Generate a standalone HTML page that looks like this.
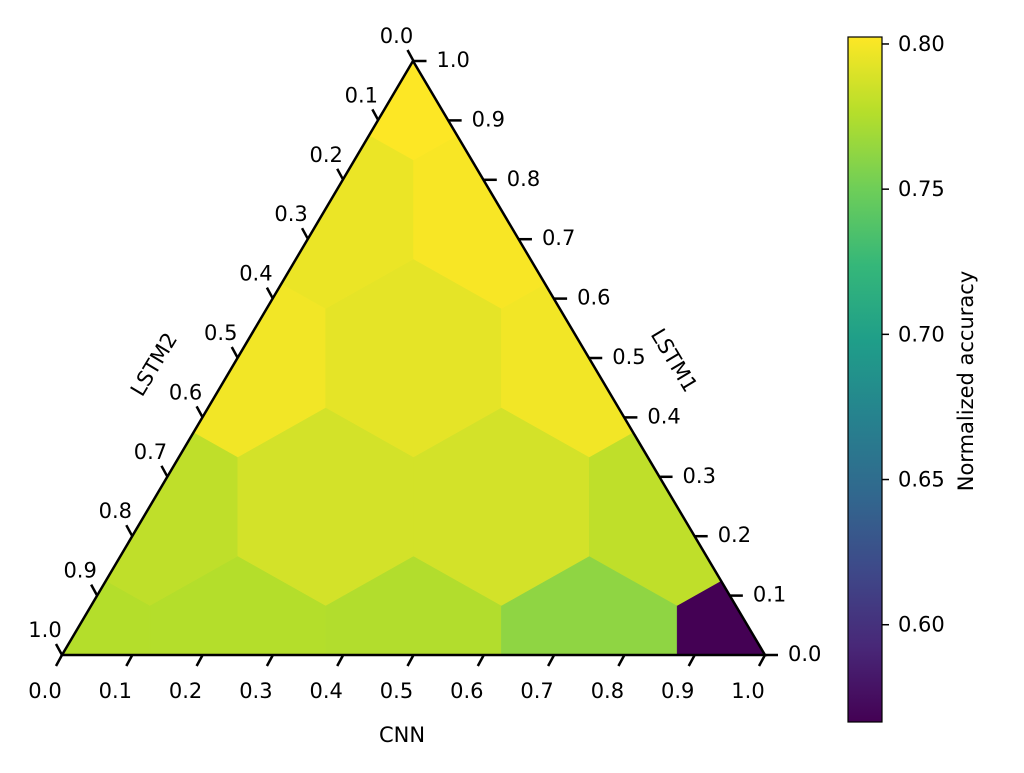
<!DOCTYPE html>
<html><head><meta charset="utf-8"><style>
body{margin:0;background:#fff;}
svg{font-family:"DejaVu Sans","Liberation Sans",sans-serif;}
</style></head><body>
<svg id="chart" width="1024" height="768" viewBox="0 0 1024 768">
<defs><clipPath id="tri"><polygon points="62,655 765,655 413,61"/></clipPath>
<linearGradient id="vir" x1="0" y1="1" x2="0" y2="0">
<stop offset="0" stop-color="#440154"/><stop offset="0.111" stop-color="#482878"/><stop offset="0.222" stop-color="#3e4989"/><stop offset="0.333" stop-color="#31688e"/><stop offset="0.444" stop-color="#26828e"/><stop offset="0.556" stop-color="#1f9e89"/><stop offset="0.667" stop-color="#35b779"/><stop offset="0.778" stop-color="#6ece58"/><stop offset="0.889" stop-color="#b5de2b"/><stop offset="1" stop-color="#fde725"/></linearGradient></defs>
<g id="cells" clip-path="url(#tri)"></g>
<g id="axes"></g>
</svg>
<script>
// lattice points: CNN fraction, LSTM1 fraction, value
const cellCNN   = [0,0.25,0.5,0.75,1, 0,0.25,0.5,0.75, 0,0.25,0.5, 0,0.25, 0];
const cellLSTM1 = [0,0,0,0,0, 0.25,0.25,0.25,0.25, 0.5,0.5,0.5, 0.75,0.75, 1];
const cellValue = [0.776,0.776,0.775,0.762,0.5665, 0.780,0.787,0.787,0.780, 0.7984,0.7935,0.7984, 0.796,0.8005, 0.8024];
const tickValues = [0,0.1,0.2,0.3,0.4,0.5,0.6,0.7,0.8,0.9,1.0];
const cbTicks = [0.60,0.65,0.70,0.75,0.80];
const vmin = 0.5665, vmax = 0.8024;

const NS="http://www.w3.org/2000/svg";
const X0=62,Y0=655,W=703,H=594;
function px(c,l){return X0+W*(c+l/2);}
function py(c,l){return Y0-H*l;}
const stops=[[68,1,84],[72,40,120],[62,73,137],[49,104,142],[38,130,142],[31,158,137],[53,183,121],[110,206,88],[181,222,43],[253,231,37]];
function viridis(f){f=Math.max(0,Math.min(1,f))*9;const i=Math.min(8,Math.floor(f)),t=f-i;const a=stops[i],b=stops[i+1];
 return `rgb(${a.map((v,k)=>Math.round(v+(b[k]-v)*t)).join(',')})`;}
function mk(tag,attrs,parent){const e=document.createElementNS(NS,tag);for(const k in attrs)e.setAttribute(k,attrs[k]);parent.appendChild(e);return e;}
const cells=document.getElementById('cells'), axes=document.getElementById('axes');
const a=W*0.25/2, dy=H*0.25;
for(let i=0;i<cellValue.length;i++){
 const cx=px(cellCNN[i],cellLSTM1[i]), cy=py(cellCNN[i],cellLSTM1[i]);
 const pts=[[cx,cy-2*dy/3],[cx+a,cy-dy/3],[cx+a,cy+dy/3],[cx,cy+2*dy/3],[cx-a,cy+dy/3],[cx-a,cy-dy/3]].map(p=>p.join(',')).join(' ');
 const col=viridis((cellValue[i]-vmin)/(vmax-vmin));
 const h=mk('polygon',{points:pts,fill:col,stroke:col,'stroke-width':0.5},cells);
 
 
}
const tri=mk('polygon',{points:"62,655 765,655 413,61",fill:"none",stroke:"#000","stroke-width":2.5,"stroke-linejoin":"miter"},axes);


const fs=21;
tickValues.forEach(t=>{
 const lab=t.toFixed(1);
 let x=px(t,0),y=py(t,0);
 mk('line',{x1:x,y1:y,x2:x-6,y2:y+11,stroke:"#000","stroke-width":2.5},axes);
 let tx=mk('text',{x:x-17,y:y+43,'font-size':fs,'text-anchor':'middle'},axes);tx.textContent=lab;
 
 
 x=px(1-t,t);y=py(1-t,t);
 mk('line',{x1:x,y1:y,x2:x+13,y2:y,stroke:"#000","stroke-width":2.5},axes);
 tx=mk('text',{x:x+23,y:y+6,'font-size':fs},axes);tx.textContent=lab;
 
 
 x=px(0,1-t);y=py(0,1-t);
 mk('line',{x1:x,y1:y,x2:x-6,y2:y-11,stroke:"#000","stroke-width":2.5},axes);
 tx=mk('text',{x:x-17,y:y-18,'font-size':fs,'text-anchor':'middle'},axes);tx.textContent=lab;
 
 
});
let t1=mk('text',{x:402,y:742,'font-size':fs,'text-anchor':'middle'},axes);t1.textContent='CNN';


let t2=mk('text',{x:0,y:0,'font-size':fs,'text-anchor':'middle',transform:'translate(668,364) rotate(59)'},axes);t2.textContent='LSTM1';


let t3=mk('text',{x:0,y:0,'font-size':fs,'text-anchor':'middle',transform:'translate(160,368) rotate(-59)'},axes);t3.textContent='LSTM2';


const cbTop=37,cbBot=722,cbX=848,cbW=34;
const cb=mk('rect',{x:cbX,y:cbTop,width:cbW,height:cbBot-cbTop,fill:"url(#vir)",stroke:"#000","stroke-width":1.2},axes);


cbTicks.forEach(v=>{
 const y=cbBot-(v-vmin)/(vmax-vmin)*(cbBot-cbTop);
 mk('line',{x1:cbX+cbW,y1:y,x2:cbX+cbW+7,y2:y,stroke:"#000","stroke-width":1.5},axes);
 const t=mk('text',{x:cbX+cbW+16,y:y+7,'font-size':fs},axes);t.textContent=v.toFixed(2);
 
 
});
let t4=mk('text',{x:0,y:0,'font-size':fs,'text-anchor':'middle',transform:'translate(973,381) rotate(-90)'},axes);t4.textContent='Normalized accuracy';


</script>
</body></html>
